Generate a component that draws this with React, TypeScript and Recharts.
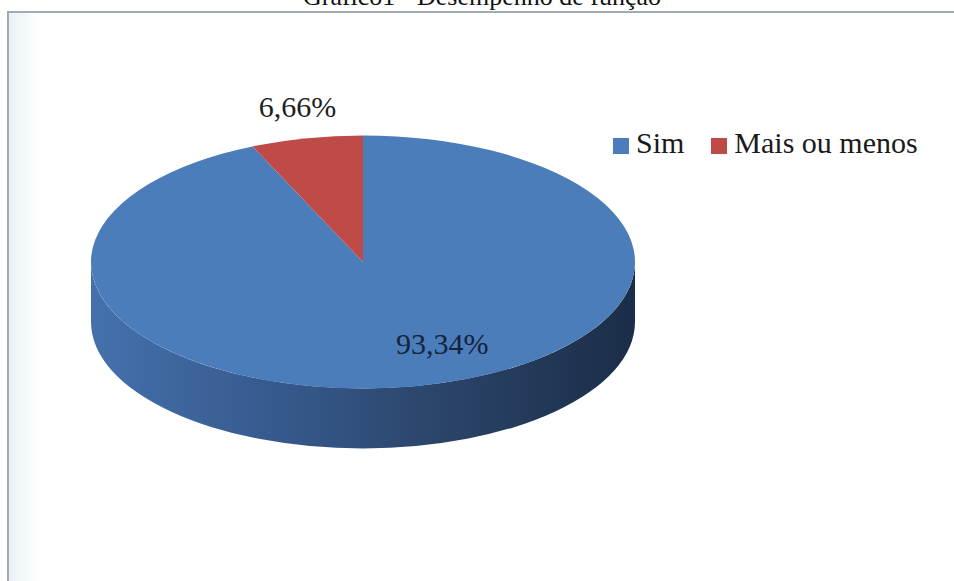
import React from 'react';
import { PieChart, Pie, Cell, Legend } from 'recharts';

const categories = ['Sim', 'Mais ou menos'];
const values = [93.34, 6.66];
const valueLabels = ['93,34%', '6,66%'];
const title = 'Gráfico1 - Desempenho de função';

const colors = ['#4a7dba', '#be4b48'];
// side wall shades, left -> right
const sideShades = [
    ['#4471ad', '#36598c', '#2a4468', '#1b2d48'],
    ['#a84442', '#8a3735', '#6e2b2a', '#4f1f1e'],
];

const data = categories.map((name, i) => ({ name, value: values[i] }));

const TILT = 0.465; // ellipse ry / rx
const DEPTH = 60;
const RAD = Math.PI / 180;
const FONT = '"Liberation Serif", "Times New Roman", serif';

function PieSlice(props: any) {
    const { cx, cy, outerRadius, startAngle, endAngle, fill } = props;
    const name = props.payload?.name ?? props.name;
    const idx = Math.max(0, categories.indexOf(name));
    const rx = outerRadius;
    const ry = outerRadius * TILT;
    const pt = (a: number, dy = 0) => `${cx + rx * Math.cos(a * RAD)},${cy - ry * Math.sin(a * RAD) + dy}`;

    const lo = Math.min(startAngle, endAngle);
    const hi = Math.max(startAngle, endAngle);
    const walls: number[][] = [];
    for (let k = -2; k <= 1; k++) {
        const a0 = Math.max(lo, -180 + 360 * k);
        const a1 = Math.min(hi, 360 * k);
        if (a1 - a0 > 0.01) walls.push([a0, a1]);
    }

    const large = hi - lo > 180 ? 1 : 0;
    const sweep = startAngle > endAngle ? 1 : 0;
    const top = `M${cx},${cy} L${pt(startAngle)} A${rx},${ry} 0 ${large} ${sweep} ${pt(endAngle)} Z`;
    const gid = `side-grad-${idx}`;
    const shades = sideShades[idx];

    return (
        <g>
            <defs>
                <linearGradient id={gid} gradientUnits="userSpaceOnUse" x1={cx - rx} y1={0} x2={cx + rx} y2={0}>
                    <stop offset="0%" stopColor={shades[0]} />
                    <stop offset="35%" stopColor={shades[1]} />
                    <stop offset="65%" stopColor={shades[2]} />
                    <stop offset="100%" stopColor={shades[3]} />
                </linearGradient>
            </defs>
            {walls.map(([a0, a1], i) => (
                <path
                    key={i}
                    d={`M${pt(a0)} A${rx},${ry} 0 0 0 ${pt(a1)} L${pt(a1, DEPTH)} A${rx},${ry} 0 0 1 ${pt(a0, DEPTH)} Z`}
                    fill={`url(#${gid})`}
                />
            ))}
            <path d={top} fill={fill} />
        </g>
    );
}

// label spots: fraction of the radius along the mid angle, plus a small nudge
const labelRadius = [0.66, 1.25];
const labelNudge = [42, 5];

function renderLabel(p: any) {
    const { cx, cy, midAngle, outerRadius, index } = p;
    const rx = outerRadius;
    const ry = outerRadius * TILT;
    const k = labelRadius[index];
    const x = cx + rx * k * Math.cos(midAngle * RAD) + labelNudge[index];
    const y = cy - ry * k * Math.sin(midAngle * RAD) + 10;
    return (
        <text x={x} y={y} textAnchor="middle" fontFamily={FONT} fontSize={30} fill={index === 0 ? '#15233c' : '#1e1e1e'}>
            {valueLabels[index]}
        </text>
    );
}

function LegendContent() {
    return (
        <div style={{ display: 'flex', alignItems: 'center', fontFamily: FONT, fontSize: 30, lineHeight: '30px', color: '#1a1a1a' }}>
            {categories.map((c, i) => (
                <React.Fragment key={c}>
                    <span style={{ display: 'inline-block', width: 16, height: 16, background: colors[i], marginRight: 7, position: 'relative', top: 3 }} />
                    <span style={{ marginRight: 27, whiteSpace: 'nowrap' }}>{c}</span>
                </React.Fragment>
            ))}
        </div>
    );
}

export default function App() {
    return (
        <div style={{ position: 'absolute', left: 0, top: 0, width: 954, height: 581, overflow: 'hidden', background: '#fff' }}>
            <div
                style={{
                    position: 'absolute', left: 7, top: 11, width: 960, height: 600,
                    borderTop: '2px solid #a2aab2', borderLeft: '2px solid #a2aab2',
                    background: 'linear-gradient(to right, #eaf1f6 0px, #ffffff 32px)',
                }}
            />
            <div
                style={{
                    position: 'absolute', left: 0, width: 964, top: -16, textAlign: 'center',
                    fontFamily: FONT, fontSize: 26, lineHeight: '26px', color: '#111', whiteSpace: 'nowrap',
                }}
            >
                {title}
            </div>
            <div style={{ position: 'absolute', left: 0, top: 0 }}>
                <PieChart width={954} height={581}>
                    <Pie
                        data={data}
                        dataKey="value"
                        nameKey="name"
                        cx={358}
                        cy={257}
                        outerRadius={272}
                        startAngle={90}
                        endAngle={-270}
                        stroke="none"
                        shape={PieSlice}
                        label={renderLabel}
                        labelLine={false}
                        isAnimationActive={false}
                    >
                        {data.map((d, i) => (
                            <Cell key={d.name} fill={colors[i]} />
                        ))}
                    </Pie>
                    <Legend content={LegendContent} wrapperStyle={{ position: 'absolute', left: 613, top: 128, width: 'auto' }} />
                </PieChart>
            </div>
        </div>
    );
}
